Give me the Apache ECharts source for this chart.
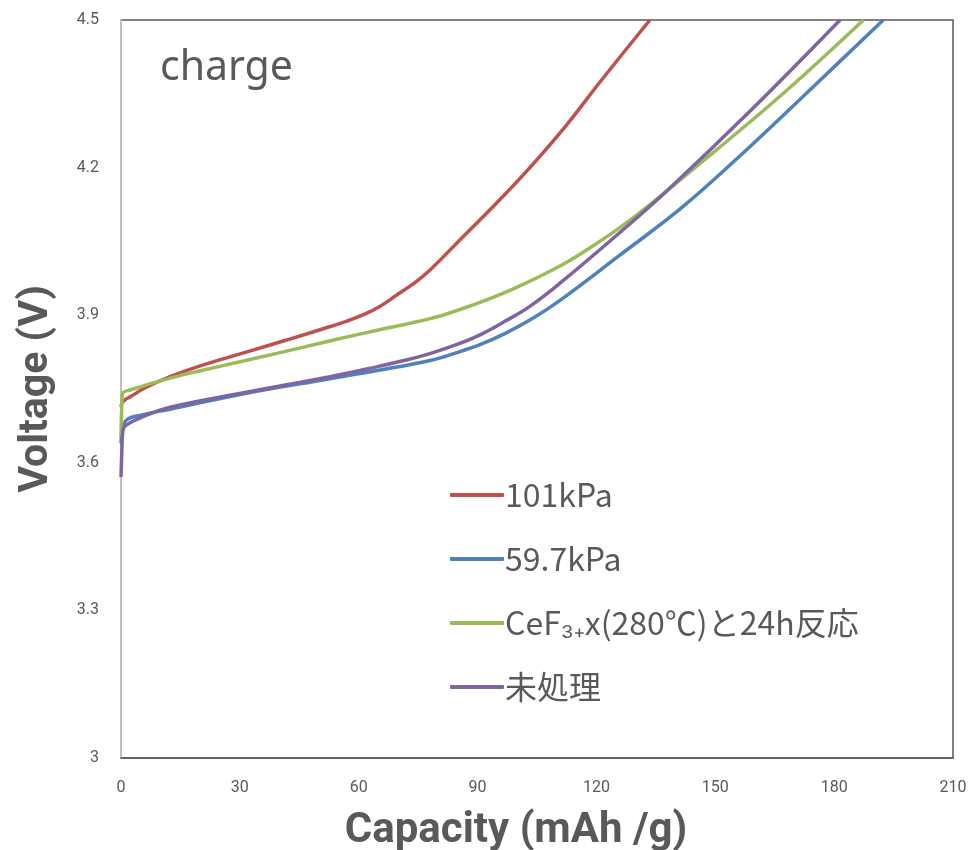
<!DOCTYPE html>
<html><head><meta charset="utf-8">
<script src="https://cdn.jsdelivr.net/npm/echarts@6/dist/echarts.min.js"></script>
<style>html,body{margin:0;padding:0;background:#fff}#c{width:973px;height:850px}</style>
</head><body><div id="c"></div>
<script>
const seriesNames = ['101kPa', '59.7kPa', 'CeF\u2083\u208Ax(280\u2103)と24h反応', '未処理'];
const xTicks = [0, 30, 60, 90, 120, 150, 180, 210];
const yTicks = [3, 3.3, 3.6, 3.9, 4.2, 4.5];
// [capacity mAh/g, voltage V]
const red101 = [[0,3.714],[0.3,3.722],[1,3.728],[2.3,3.734],[6,3.752],[12.4,3.775],[20,3.797],[32,3.826],[42,3.850],[52.8,3.877],[57,3.888],[61.2,3.901],[65,3.916],[69.6,3.941],[74,3.965],[78,3.992],[86.4,4.060],[94.8,4.128],[103.2,4.200],[112.5,4.287],[121,4.375],[133.5,4.5]];
const blue597 = [[0,3.64],[0.3,3.665],[1.4,3.687],[5,3.697],[12.4,3.709],[32,3.742],[52.8,3.771],[65,3.788],[78,3.808],[84,3.822],[90.6,3.840],[97,3.863],[103.2,3.890],[110.8,3.930],[125.9,4.022],[141.9,4.121],[158.8,4.243],[175.6,4.371],[192.4,4.5]];
const greenCeF = [[0,3.653],[0.2,3.72],[0.4,3.741],[2.3,3.748],[12.4,3.772],[20,3.787],[32,3.809],[45,3.833],[55,3.852],[65,3.870],[78,3.893],[85,3.910],[92.3,3.931],[100,3.957],[110.8,4.000],[118,4.035],[125.9,4.078],[133.5,4.125],[150.3,4.236],[167.2,4.351],[187.4,4.5]];
const purpleRaw = [[0,3.571],[0.2,3.62],[0.5,3.667],[1.4,3.677],[5,3.692],[12.4,3.713],[32,3.744],[52.8,3.775],[65,3.796],[72,3.809],[78,3.822],[85,3.841],[90.6,3.860],[97,3.888],[103.2,3.918],[110.8,3.965],[125.9,4.068],[137.7,4.152],[158.8,4.315],[181.5,4.5]];
const dataSets = [red101, blue597, greenCeF, purpleRaw];
const colors = ['#C0504D', '#4F81BD', '#9BBB59', '#8064A2'];

const chart = echarts.init(document.getElementById('c'));
chart.setOption({
  animation: false,
  backgroundColor: '#fff',
  grid: {left: 121, right: 20, top: 20, bottom: 92, outerBoundsMode: 'none', containLabel: false,
    show: true, borderColor: '#595959', borderWidth: 1.5, backgroundColor: 'transparent'},
  xAxis: {
    type: 'value', min: xTicks[0], max: xTicks[xTicks.length-1], interval: 30,
    name: 'Capacity (mAh /g)', nameLocation: 'middle', nameGap: 52,
    nameTextStyle: {fontSize: 42, fontWeight: 'bold', color: '#595959', padding: [0, 42, 0, 0], fontFamily: 'Roboto, sans-serif'},
    axisLine: {show: true, lineStyle: {color: '#595959', width: 1.5}},
    axisTick: {show: false}, splitLine: {show: false},
    axisLabel: {fontSize: 16, color: '#595959', margin: 22, fontFamily: 'Roboto, sans-serif'}
  },
  yAxis: {
    type: 'value', min: yTicks[0], max: yTicks[yTicks.length-1], interval: 0.3,
    name: 'Voltage (V)', nameLocation: 'middle', nameGap: 64, nameRotate: 90,
    nameTextStyle: {fontSize: 41, fontWeight: 'bold', color: '#595959', fontFamily: 'Roboto, sans-serif'},
    axisLine: {show: true, lineStyle: {color: '#BFBFBF', width: 2}},
    axisTick: {show: false}, splitLine: {show: false},
    axisLabel: {fontSize: 16, color: '#595959', margin: 22, fontFamily: 'Roboto, sans-serif',
      formatter: v => String(parseFloat(v.toFixed(1)))}
  },
  legend: {
    orient: 'vertical', left: 445, top: 474, itemGap: 32,
    itemWidth: 54, itemHeight: 4, icon: 'roundRect',
    textStyle: {fontSize: 32, color: '#595959', fontFamily: 'Noto Sans CJK JP, sans-serif', padding: [0,0,0,-4]},
    data: seriesNames
  },
  graphic: [{type: 'text', left: 160, top: 48, style: {text: 'charge', fontSize: 41, fill: '#595959', fontFamily: 'Noto Sans, sans-serif'}}],
  series: dataSets.map((d, i) => ({
    name: seriesNames[i], type: 'line', data: d, showSymbol: false, smooth: 0.4,
    lineStyle: {color: colors[i], width: 3.5}, itemStyle: {color: colors[i]}, clip: true
  }))
});
</script></body></html>
